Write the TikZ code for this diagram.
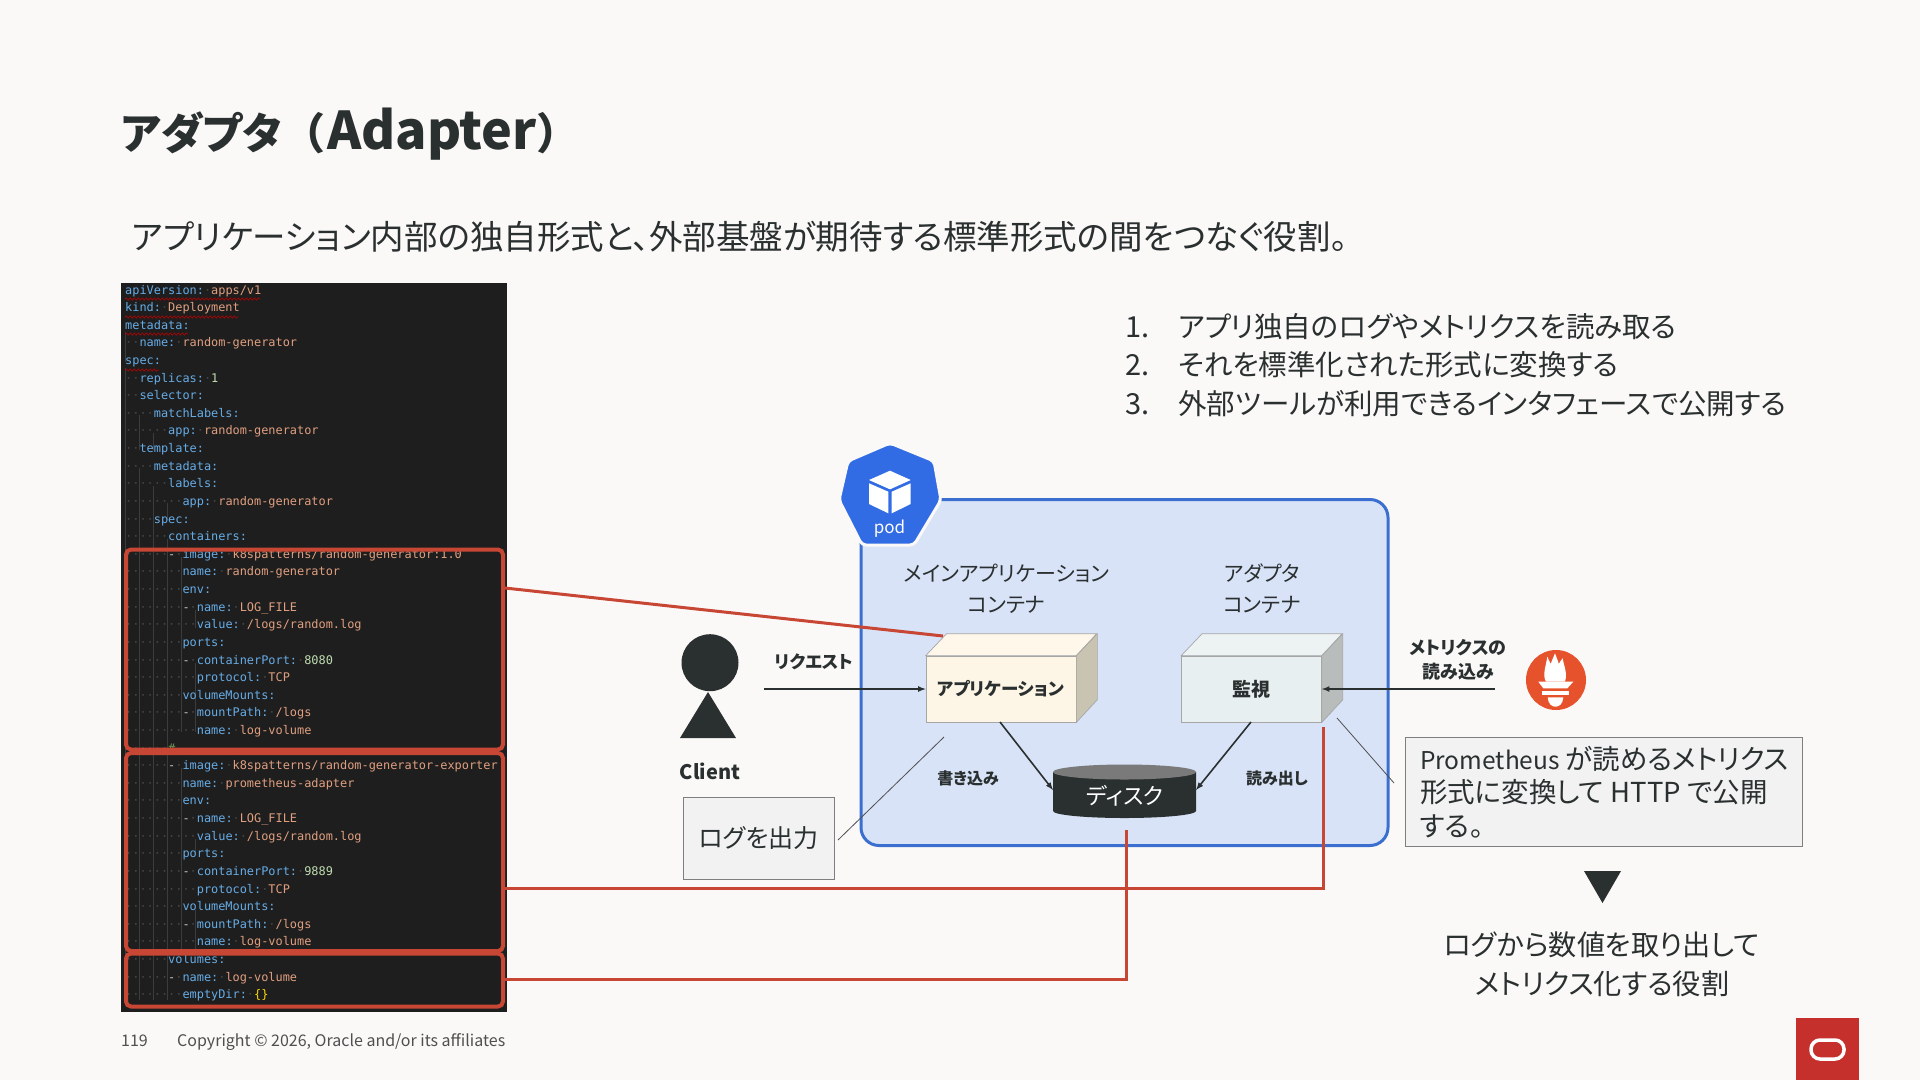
\documentclass[tikz,border=0pt]{standalone}
\usepackage{fontspec}
\setmainfont{Noto Sans CJK JP}[RawFeature=+palt]
\newfontfamily\widefont{Noto Sans CJK JP}
\newfontfamily\codefont{DejaVu Sans Mono}
\usetikzlibrary{decorations.pathmorphing}
\definecolor{slidebg}{HTML}{FBF9F8}
\definecolor{inkdark}{HTML}{2A2F2F}
\definecolor{footgrey}{HTML}{4F4F4F}
\definecolor{oraclered}{HTML}{C5302D}
\definecolor{boxred}{HTML}{C74634}
\definecolor{codebg}{HTML}{1E1E1E}
\definecolor{yamlkey}{HTML}{66ACE6}
\definecolor{yamlstr}{HTML}{E09F80}
\definecolor{yamlnum}{HTML}{BFDCB0}
\definecolor{yamlbrace}{HTML}{FFD700}
\definecolor{yamlcom}{HTML}{6A9955}
\definecolor{yamldot}{HTML}{454545}
\definecolor{yamlguide}{HTML}{3C3C3C}
\definecolor{yamldash}{HTML}{C8C8C8}
\definecolor{podblue}{HTML}{326CE5}
\definecolor{podline}{HTML}{3A6FD0}
\definecolor{podfill}{HTML}{D8E3F8}
\definecolor{notefill}{HTML}{F2F2F2}
\definecolor{notegrey}{HTML}{7F7F7F}
\definecolor{promred}{HTML}{E6522C}
\definecolor{appfront}{HTML}{FDF5E6}
\definecolor{apptop}{HTML}{FFF8EA}
\definecolor{appside}{HTML}{C9C3B2}
\definecolor{monfront}{HTML}{E8EFF0}
\definecolor{montop}{HTML}{EDF2F3}
\definecolor{monside}{HTML}{B8BCBB}
\newcommand{\fsz}[2]{\fontsize{#1}{#2}\selectfont}
\newcommand{\sd}{{\color{yamldot}·}}
\newcommand{\dd}{{\color{yamldash}-}}
% Khoi hop 3D: mat truoc la node, hai mat con lai ve tu cac goc cua node
\newcommand{\cuboidfaces}[3]{
    \draw[cubeedge, fill=#2] (#1.north west) -- ++(21,-22) -- ++(\cubew,0) -- (#1.north east) -- cycle;
    \draw[cubeedge, fill=#3] (#1.north east) -- ++(21,-22) -- ++(0,66) -- (#1.south east) -- cycle;
}
\tikzset{
    codeline/.style={anchor=west, inner sep=0pt, text height=9pt, text depth=3pt, font=\codefont\fontsize{11.9}{14}\selectfont},
    guide/.style={yamlguide, line width=0.6pt},
    squiggle/.style={red!75!black, line width=0.6pt, decorate, decoration={snake, segment length=4pt, amplitude=1.1pt}},
    redbox/.style={draw=boxred, line width=4pt, rounded corners=5pt, inner sep=0pt},
    redline/.style={boxred, line width=3pt},
    flow/.style={inkdark, line width=1.6pt, ->},
    thinline/.style={footgrey, line width=0.8pt},
    notebox/.style={draw=notegrey, line width=1pt, fill=notefill, inner sep=0pt, text=inkdark},
    cubeedge/.style={draw=black!35, line width=0.7pt},
    lbl/.style={inner sep=0pt, text=inkdark, align=center},
    lblb/.style={lbl, font=\bfseries\fsz{18}{24}},
}
\begin{document}
\begin{tikzpicture}[>=latex, x=1pt, y=-1pt]
    \useasboundingbox (0,0) rectangle (1920,1080);
    \fill[slidebg] (0,0) rectangle (1920,1080);

    % Tieu de
    \node[lbl, anchor=west, font=\bfseries\fsz{43}{50}] (title) at (121,134) {アダプタ{\widefont\bfseries （}\hspace{2pt}{\fontsize{52}{54}\selectfont Adapter}{\widefont\bfseries ）}};
    \node[lbl, anchor=west, font=\fsz{33.5}{40}] (subtitle) at (132,237) {アプリケーション内部の独自形式と、外部基盤が期待する標準形式の間をつなぐ役割。};

    % Ma YAML
    \fill[codebg] (121,283) rectangle (507,1012);
    \foreach \gx/\ga/\gb in {125/332/362, 125/368/1000, 139/415/450, 139/468/1000, 153/433/450, 153/486/1000,
                             167/503/520, 167/539/1000, 181/557/732, 181/768/950, 195/610/628, 195/663/732, 195/839/855, 195/910/950} {
        \draw[guide] (\gx,\ga) -- (\gx,\gb);
    }
    \foreach \ind/\k/\v/\c [count=\row from 0] in {
        {}/{apiVersion:}/{\sd apps/v1}/yamlstr,
        {}/{kind:}/{\sd Deployment}/yamlstr,
        {}/{metadata:}/{}/yamlstr,
        {··}/{name:}/{\sd random-generator}/yamlstr,
        {}/{spec:}/{}/yamlstr,
        {··}/{replicas:}/{\sd 1}/yamlnum,
        {··}/{selector:}/{}/yamlstr,
        {····}/{matchLabels:}/{}/yamlstr,
        {······}/{app:}/{\sd random-generator}/yamlstr,
        {··}/{template:}/{}/yamlstr,
        {····}/{metadata:}/{}/yamlstr,
        {······}/{labels:}/{}/yamlstr,
        {········}/{app:}/{\sd random-generator}/yamlstr,
        {····}/{spec:}/{}/yamlstr,
        {······}/{containers:}/{}/yamlstr,
        {······\dd\sd}/{image:}/{\sd k8spatterns/random-generator:1.0}/yamlstr,
        {········}/{name:}/{\sd random-generator}/yamlstr,
        {········}/{env:}/{}/yamlstr,
        {········\dd\sd}/{name:}/{\sd LOG\_FILE}/yamlstr,
        {··········}/{value:}/{\sd /logs/random.log}/yamlstr,
        {········}/{ports:}/{}/yamlstr,
        {········\dd\sd}/{containerPort:}/{\sd 8080}/yamlnum,
        {··········}/{protocol:}/{\sd TCP}/yamlstr,
        {········}/{volumeMounts:}/{}/yamlstr,
        {········\dd\sd}/{mountPath:}/{\sd /logs}/yamlstr,
        {··········}/{name:}/{\sd log-volume}/yamlstr,
        {······}/{}/{\#}/yamlcom,
        {······\dd\sd}/{image:}/{\sd k8spatterns/random-generator-exporter}/yamlstr,
        {········}/{name:}/{\sd prometheus-adapter}/yamlstr,
        {········}/{env:}/{}/yamlstr,
        {········\dd\sd}/{name:}/{\sd LOG\_FILE}/yamlstr,
        {··········}/{value:}/{\sd /logs/random.log}/yamlstr,
        {········}/{ports:}/{}/yamlstr,
        {········\dd\sd}/{containerPort:}/{\sd 9889}/yamlnum,
        {··········}/{protocol:}/{\sd TCP}/yamlstr,
        {········}/{volumeMounts:}/{}/yamlstr,
        {········\dd\sd}/{mountPath:}/{\sd /logs}/yamlstr,
        {··········}/{name:}/{\sd log-volume}/yamlstr,
        {······}/{volumes:}/{}/yamlstr,
        {······\dd\sd}/{name:}/{\sd log-volume}/yamlstr,
        {········}/{emptyDir:}/{\sd \textcolor{yamlbrace}{\{\}}}/yamlstr%
    } {
        \node[codeline] (code\row) at (125,{291+17.62*\row}) {\textcolor{yamldot}{\ind}\textcolor{yamlkey}{\k}\textcolor{\c}{\v}};
    }
    \foreach \sy/\sx in {299/260, 317/238, 334/188, 370/159} {
        \draw[squiggle] (125,\sy) -- (\sx,\sy);
    }

    % Cac khung do tren ma
    \node[redbox, minimum width=377pt, minimum height=200pt] (boxApp) at (314.5,649.5) {};
    \node[redbox, minimum width=377pt, minimum height=198pt] (boxAdapter) at (314.5,852) {};
    \node[redbox, minimum width=377pt, minimum height=53pt] (boxVolume) at (314.5,980) {};

    % Pod
    \node[draw=podline, fill=podfill, line width=3pt, rounded corners=18pt, inner sep=0pt,
          minimum width=527pt, minimum height=346pt] (podBox) at (1124.5,672.5) {};
    \draw[slidebg, fill=podblue, line width=3pt, rounded corners=4pt] (890,443) -- (934,461) -- (941,500) -- (914,545)
        -- (862,545) -- (839,500) -- (848,461) -- cycle;
    \fill[white] (890,470.7) -- (910.7,480) -- (890,489.3) -- (869,480) -- cycle;
    \fill[white] (869,483.3) -- (888.3,491.7) -- (888.3,513.3) -- (869,504) -- cycle;
    \fill[white] (891.7,491.7) -- (910.7,483.3) -- (910.7,504) -- (891.7,513.3) -- cycle;
    \node[inner sep=0pt, text=white, font=\fsz{17}{22}] (podLabel) at (889.5,529) {pod};

    \node[lbl, font=\fsz{21}{31}] (mainLabel) at (1006.5,589) {メインアプリケーション\\コンテナ};
    \node[lbl, font=\fsz{21}{31}] (adapterLabel) at (1262,589) {アダプタ\\コンテナ};

    % Hai khoi hop
    \node[cubeedge, fill=appfront, inner sep=0pt, minimum width=150pt, minimum height=66pt, text=inkdark,
          font=\bfseries\fsz{17.5}{24}] (appBox) at (1001,689) {アプリケーション};
    \def\cubew{150}
    \cuboidfaces{appBox}{apptop}{appside}
    \node[cubeedge, fill=monfront, inner sep=0pt, minimum width=140pt, minimum height=66pt, text=inkdark,
          font=\bfseries\fsz{19}{24}] (monBox) at (1251.5,689) {監視};
    \def\cubew{140}
    \cuboidfaces{monBox}{montop}{monside}

    % Dia
    \node[inner sep=0pt, minimum width=143pt, minimum height=46pt] (disk) at (1124.5,795) {};
    \fill[inkdark] (1053,772) -- (1196,772) -- (1196,811) arc[start angle=0, end angle=180, x radius=71.5, y radius=7] -- cycle;
    \fill[black!52] (1124.5,772) ellipse[x radius=71.5, y radius=7.5];
    \node[inner sep=0pt, text=white, font=\fsz{22.5}{30}] (diskLabel) at (1125,796) {ディスク};

    % Client
    \fill[inkdark] (710,662.7) circle[radius=28.5];
    \fill[inkdark] (708,692) -- (736,738) -- (680,738) -- cycle;
    \node[lbl, font=\bfseries\fsz{20}{26}] (client) at (710,771) {Client};
    \node[lblb, font=\bfseries\fsz{17.5}{24}] (request) at (814,662) {リクエスト};
    \coordinate (clientOut) at (764,689);
    \draw[flow] (clientOut) -- (appBox.west);

    % Doc ghi dia
    \coordinate (writeFrom) at (1000,722);
    \coordinate (writeTo) at (1053,790);
    \coordinate (readFrom) at (1251,722);
    \coordinate (readTo) at (1196,790);
    \draw[flow] (writeFrom) -- (writeTo);
    \draw[flow] (readFrom) -- (readTo);
    \node[lblb, font=\bfseries\fsz{16}{22}] (writeLabel) at (968,778) {書き込み};
    \node[lblb, font=\bfseries\fsz{16}{22}] (readLabel) at (1277,778) {読み出し};

    % Prometheus
    \fill[promred] (1556,680) circle[radius=30];
    \begin{scope}[shift={(1556,680)}]
        \fill[white] (-10,1.7) .. controls (-14,-5) and (-10,-14) .. (-8.7,-23.3) .. controls (-7,-19) and (-6,-18) .. (-5.3,-16)
            .. controls (-4,-20) and (-2,-24) .. (-1,-26.7) .. controls (0,-23) and (2,-20) .. (2.7,-16)
            .. controls (4,-18) and (5,-20) .. (6.7,-21.7) .. controls (7,-16) and (12,-8) .. (9,1.7) -- cycle;
        \fill[white] (-17.7,1.7) -- (17.3,1.7) -- (11.3,8.3) -- (-12.7,8.3) -- cycle;
        \fill[white] (-13.7,10.7) rectangle (13,15);
        \fill[white] (-8.3,17.3) -- (7.3,17.3) .. controls (7,24) and (3,26.7) .. (-0.5,26.7) .. controls (-4,26.7) and (-8,24) .. (-8.3,17.3) -- cycle;
    \end{scope}
    \node[lblb] (metricsLabel) at (1458,660) {メトリクスの\\読み込み};
    \coordinate (promOut) at (1495,689);
    \draw[flow] (promOut) -- (monBox.east);

    % Ghi chu
    \node[notebox, minimum width=151pt, minimum height=82pt, font=\fsz{25}{34}] (logNote) at (758.5,838) {ログを出力};
    \coordinate (logTip) at (944,737);
    \draw[thinline] (838,840) -- (logTip);
    \node[notebox, minimum width=397pt, minimum height=109pt] (promNote) at (1603.5,791.5) {};
    \node[lbl, anchor=west, align=left, font=\fsz{27.5}{33.5}] (promText) at (1420,792) {{\fontsize{24.5}{33.5}\selectfont Prometheus} が読めるメトリクス\\形式に変換して HTTP で公開\\する。};
    \coordinate (promTip) at (1337,718);
    \draw[thinline] (1394,783) -- (promTip);

    % Danh sach
    \foreach \num/\txt/\yy in {1./アプリ独自のログやメトリクスを読み取る/327, 2./それを標準化された形式に変換する/365, 3./外部ツールが利用できるインタフェースで公開する/404} {
        \node[lbl, anchor=west, font=\fsz{29}{34}] (num\yy) at (1125,\yy) {\num};
        \node[lbl, anchor=west, font=\fsz{28.5}{34}] (item\yy) at (1178,\yy) {\txt};
    }

    % Duong do noi ma voi so do
    \coordinate (appOut) at (505,588);
    \coordinate (appIn) at (943,636);
    \coordinate (adapterOut) at (505,888);
    \coordinate (monIn) at (1323,727);
    \coordinate (volOut) at (505,979);
    \coordinate (diskIn) at (1126,830);
    \draw[redline] (appOut) -- (appIn);
    \draw[redline] (adapterOut) -- (adapterOut -| monIn) -- (monIn);
    \draw[redline] (volOut) -- (volOut -| diskIn) -- (diskIn);

    % Ket luan
    \fill[inkdark] (1584,871) -- (1621,871) -- (1602.5,903) -- cycle;
    \node[lbl, font=\fsz{28.2}{39}] (summary) at (1602,964) {ログから数値を取り出して\\メトリクス化する役割};

    % Chan trang
    \node[lbl, anchor=west, text=footgrey, font=\fsz{16}{20}] (pageNo) at (121,1041) {119};
    \node[lbl, anchor=west, text=footgrey, font=\fsz{16}{20}] (copyright) at (177,1042) {Copyright © 2026, Oracle and/or its affiliates};
    \fill[oraclered] (1796,1018) rectangle (1859,1080);
    \draw[white, line width=3.5pt, rounded corners=9pt] (1811,1040) rectangle (1844,1059);
\end{tikzpicture}
\end{document}
